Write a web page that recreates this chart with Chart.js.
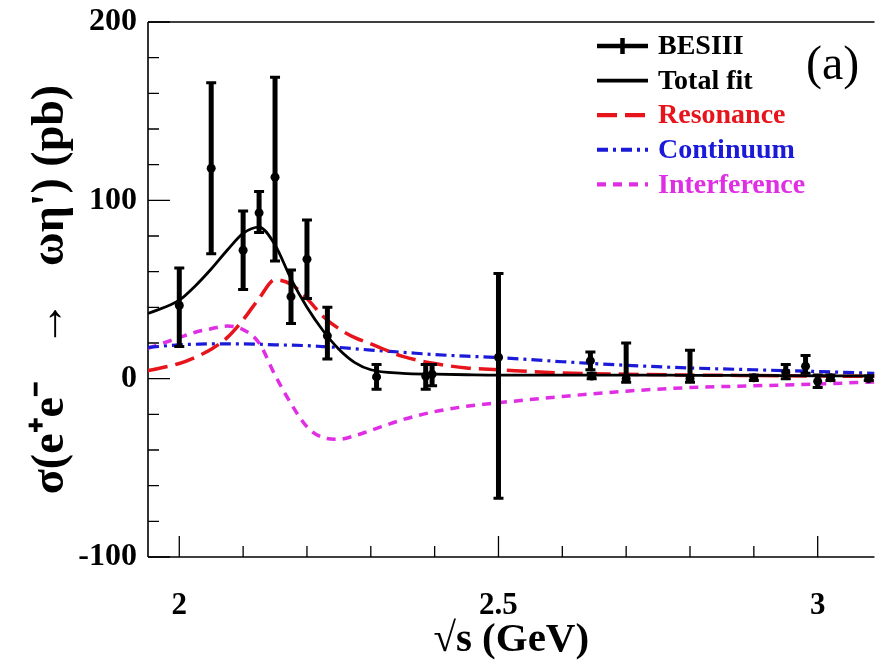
<!DOCTYPE html>
<html><head><meta charset="utf-8">
<script src="https://cdn.jsdelivr.net/npm/chart.js@4.4.1/dist/chart.umd.min.js"></script>
<style>html,body{margin:0;padding:0;background:#fff;}#wrap{width:879px;height:662px;}</style>
</head><body><div id="wrap"><canvas id="c" width="879" height="662"></canvas></div>
<script>
// ---- data ----
const dataX  = [2.0, 2.05, 2.1, 2.125, 2.15, 2.175, 2.2, 2.232, 2.309, 2.386, 2.396, 2.5, 2.644, 2.646, 2.7, 2.8, 2.9, 2.95, 2.981, 3.0, 3.02, 3.08];
const dataY  = [41, 118, 72, 93, 113, 46, 67, 24, 1, 1.5, 2.5, 12, 10, 1.5, 0, 0, 0.5, 3.5, 7, -1.5, 0.5, 0];
const dataLo = [18, 70, 50, 82, 66, 31, 45, 11, -6, -6, -4, -67, 5, 0, -2, -2, -1, 0, 3, -5, -1, -1];
const dataHi = [62, 166, 94, 105, 169, 61, 89, 40, 8, 8, 8, 59, 15, 3, 20, 16, 2, 8, 13, 2, 2, 1.5];

const curveX       = [1.951, 2.0, 2.025, 2.05, 2.075, 2.1, 2.125, 2.15, 2.175, 2.2, 2.225, 2.25, 2.275, 2.3, 2.35, 2.4, 2.45, 2.5, 2.6, 2.7, 2.8, 2.9, 3.0, 3.089];
const totalFit     = [36.5, 44, 52, 61.5, 72, 81.5, 85, 75, 56, 40, 27, 16.5, 9, 5, 3, 2.5, 2.2, 2, 2, 2, 1.9, 1.8, 1.6, 1.5];
const resonance    = [4.5, 8.5, 12, 16.5, 23, 33, 45, 55.5, 53, 45, 35, 28, 23, 19.5, 12.5, 8.5, 6, 5, 3.2, 2.5, 2, 1.8, 1.5, 1.3];
const continuum    = [17.5, 19, 19.3, 19.5, 19.5, 19.5, 19.3, 19, 18.8, 18.5, 18, 17.5, 16.8, 16, 14.8, 13.5, 12.6, 11.8, 9.5, 7.5, 6, 5, 4, 3];
const interference = [17, 23, 26, 28, 29.5, 27.5, 20, 2, -14, -27, -33, -34, -32, -29, -23, -18.5, -15.5, -13.5, -10, -7, -5, -4, -3, -1.8];

const xTicks = [2.0, 2.1, 2.2, 2.3, 2.4, 2.5, 2.6, 2.7, 2.8, 2.9, 3.0];
const xMajor = [2.0, 2.5, 3.0];
const xTickLabels = ['2', '2.5', '3'];
const yTicks = [-100, -80, -60, -40, -20, 0, 20, 40, 60, 80, 100, 120, 140, 160, 180, 200];
const yMajor = [-100, 0, 100, 200];
const yTickLabels = ['-100', '0', '100', '200'];
const seriesNames = ['BESIII', 'Total fit', 'Resonance', 'Continuum', 'Interference'];

const RED = '#e8141c', BLUE = '#1a1ad8', MAG = '#e02ee4';
const SERIF = '"Liberation Serif", "Times New Roman", serif';

function pts(xs, ys) { return xs.map((x, i) => ({ x: x, y: ys[i] })); }
function isIn(arr, v) { return arr.findIndex(m => Math.abs(m - v) < 1e-9); }

const framePlugin = {
  id: 'frame',
  beforeDatasetsDraw(chart) {
    const { ctx, chartArea: a, scales: { x, y } } = chart;
    ctx.save();
    ctx.strokeStyle = '#000';
    ctx.lineWidth = 1.6;
    ctx.beginPath();
    ctx.moveTo(a.left, a.top); ctx.lineTo(a.right, a.top);
    ctx.moveTo(a.left, a.top); ctx.lineTo(a.left, a.bottom);
    ctx.moveTo(a.left, a.bottom); ctx.lineTo(a.right, a.bottom);
    ctx.stroke();
    ctx.lineWidth = 1.3;
    ctx.beginPath();
    xTicks.forEach(v => {
      const px = x.getPixelForValue(v);
      const len = isIn(xMajor, v) >= 0 ? 21 : 11;
      ctx.moveTo(px, a.bottom); ctx.lineTo(px, a.bottom - len);
    });
    yTicks.forEach(v => {
      const py = y.getPixelForValue(v);
      const len = isIn(yMajor, v) >= 0 ? 22 : 11;
      ctx.moveTo(a.left, py); ctx.lineTo(a.left + len, py);
    });
    ctx.stroke();
    ctx.restore();
  },
  afterDatasetsDraw(chart) {
    const { ctx, scales: { x, y } } = chart;
    ctx.save();
    ctx.strokeStyle = '#000';
    dataX.forEach((xv, i) => {
      const px = x.getPixelForValue(xv);
      const p1 = y.getPixelForValue(dataLo[i]);
      const p2 = y.getPixelForValue(dataHi[i]);
      ctx.lineWidth = 5;
      ctx.beginPath(); ctx.moveTo(px, p1); ctx.lineTo(px, p2); ctx.stroke();
      ctx.lineWidth = 3;
      ctx.beginPath();
      ctx.moveTo(px - 5, p1); ctx.lineTo(px + 5, p1);
      ctx.moveTo(px - 5, p2); ctx.lineTo(px + 5, p2);
      ctx.stroke();
    });
    ctx.restore();
  },
  afterDraw(chart) {
    const { ctx } = chart;
    const ds = chart.data.datasets;
    ctx.save();
    const x0 = 597, x1 = 648, tx = 658;
    ctx.font = 'bold 28px ' + SERIF;
    ctx.textBaseline = 'middle';
    ctx.textAlign = 'left';
    seriesNames.forEach((name, i) => {
      const yy = 46 + i * 34.6;
      const d = ds[i];
      ctx.strokeStyle = d.borderColor;
      if (i === 0) {
        ctx.lineWidth = 4.5; ctx.setLineDash([]);
        ctx.beginPath(); ctx.moveTo(x0, yy); ctx.lineTo(x1, yy);
        ctx.moveTo((x0 + x1) / 2, yy - 8); ctx.lineTo((x0 + x1) / 2, yy + 8); ctx.stroke();
      } else {
        ctx.lineWidth = d.borderWidth + 0.8;
        ctx.setLineDash(d.borderDash || []);
        ctx.beginPath(); ctx.moveTo(x0, yy); ctx.lineTo(x1, yy); ctx.stroke();
      }
      ctx.setLineDash([]);
      ctx.fillStyle = i < 2 ? '#000' : d.borderColor;
      ctx.fillText(name, tx, yy + 1);
    });
    ctx.fillStyle = '#000';
    ctx.font = '48px ' + SERIF;
    ctx.fillText('(a)', 806, 66);
    ctx.restore();
  }
};

new Chart(document.getElementById('c'), {
  type: 'scatter',
  data: {
    datasets: [
      { label: seriesNames[0], data: pts(dataX, dataY), showLine: false, pointRadius: 4.5, pointHoverRadius: 4.5,
        backgroundColor: '#000', borderColor: '#000', borderWidth: 0 },
      { label: seriesNames[1], data: pts(curveX, totalFit), showLine: true, pointRadius: 0, borderColor: '#000',
        borderWidth: 2.8, cubicInterpolationMode: 'monotone' },
      { label: seriesNames[2], data: pts(curveX, resonance), showLine: true, pointRadius: 0, borderColor: RED,
        borderWidth: 3.5, borderDash: [20, 8], cubicInterpolationMode: 'monotone' },
      { label: seriesNames[3], data: pts(curveX, continuum), showLine: true, pointRadius: 0, borderColor: BLUE,
        borderWidth: 3.2, borderDash: [11, 5, 3, 5], cubicInterpolationMode: 'monotone' },
      { label: seriesNames[4], data: pts(curveX, interference), showLine: true, pointRadius: 0, borderColor: MAG,
        borderWidth: 3.5, borderDash: [9, 7], cubicInterpolationMode: 'monotone' }
    ]
  },
  options: {
    responsive: false,
    animation: false,
    devicePixelRatio: 1,
    layout: { padding: { top: 22, left: 0, right: 0, bottom: 0 } },
    plugins: { legend: { display: false }, tooltip: { enabled: false } },
    scales: {
      x: {
        type: 'linear', min: 1.951, max: 3.089,
        afterBuildTicks: s => { s.ticks = xTicks.map(v => ({ value: v })); },
        afterFit: s => { s.height = 105; },
        grid: { display: false, drawTicks: false }, border: { display: false },
        ticks: {
          autoSkip: false, maxRotation: 0, padding: 30, color: '#000',
          font: { family: SERIF, weight: 'bold', size: 31 },
          callback: v => { const k = isIn(xMajor, v); return k >= 0 ? xTickLabels[k] : ''; }
        },
        title: { display: true, text: '\u221As (GeV)', color: '#000', padding: { top: 0, bottom: -3 },
          font: { family: SERIF, weight: 'bold', size: 41 } }
      },
      y: {
        type: 'linear', min: -100, max: 200,
        afterBuildTicks: s => { s.ticks = yTicks.map(v => ({ value: v })); },
        afterFit: s => { s.width = 148; },
        grid: { display: false, drawTicks: false }, border: { display: false },
        ticks: {
          autoSkip: false, padding: 11, color: '#000',
          font: { family: SERIF, weight: 'bold', size: 32, lineHeight: 0.6 },
          callback: v => { const k = isIn(yMajor, v); return k >= 0 ? yTickLabels[k] : ''; }
        },
        title: { display: true, text: '\u03C3(e\u207Ae\u207B   \u2192   \u03C9\u03B7\') (pb)', color: '#000',
          padding: { top: 24, bottom: 0 }, font: { family: SERIF, weight: 'bold', size: 46 } }
      }
    }
  },
  plugins: [framePlugin]
});
</script></body></html>
